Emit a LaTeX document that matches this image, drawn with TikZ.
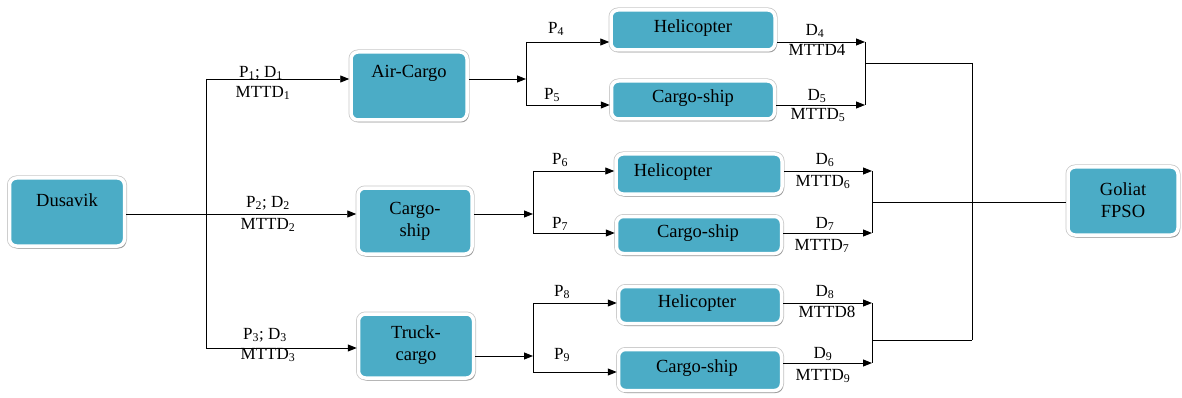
\documentclass[tikz,border=0pt]{standalone}
\usepackage{fontspec}
\setmainfont{Liberation Serif}
\newfontfamily\tnr{Liberation Serif}
\usetikzlibrary{arrows.meta,shadows}
\definecolor{boxblue}{RGB}{75,172,198}
\tikzset{
  box/.style={draw=white, line width=3.5pt, fill=boxblue, rounded corners=7pt, inner sep=0pt,
    preaction={draw=black!22, line width=5pt},
    drop shadow={shadow xshift=1.5pt, shadow yshift=-2.5pt, fill=black, opacity=0.25}},
  btxt/.style={font=\tnr\fontsize{18.5}{22}\selectfont, inner sep=0pt, align=center, text=black},
  lbl/.style={font=\tnr\fontsize{17}{19}\selectfont, inner sep=0pt, text=black},
  ln/.style={line width=0.9pt, draw=black},
  arr/.style={ln, -{Triangle[length=9pt,width=7pt]}},
}
\begin{document}
\begin{tikzpicture}[x=1pt,y=-1pt]
\useasboundingbox (0,0) rectangle (1182,398);
% boxes
\node[box, minimum width=115, minimum height=68] (dus) at (67,212) {};
\node[box, minimum width=116, minimum height=68] (air) at (409,86) {};
\node[box, minimum width=164, minimum height=40] (heli1) at (693,30) {};
\node[box, minimum width=163, minimum height=38] (ship1) at (693,100) {};
\node[box, minimum width=114, minimum height=66] (ship2) at (415,221) {};
\node[box, minimum width=166, minimum height=40] (heli2) at (699,174) {};
\node[box, minimum width=165, minimum height=37] (ship3) at (699,235) {};
\node[box, minimum width=115, minimum height=64] (truck) at (416,346) {};
\node[box, minimum width=163, minimum height=37] (heli3) at (700,305) {};
\node[box, minimum width=163, minimum height=41] (ship4) at (700,370) {};
\node[box, minimum width=110, minimum height=68] (goliat) at (1123,201) {};
% box texts
\node[btxt] (dusT) at (67,200) {Dusavik};
\node[btxt] (airT) at (409,73) {Air-Cargo};
\node[btxt] (heli1T) at (693,28) {Helicopter};
\node[btxt] (ship1T) at (693,98) {Cargo-ship};
\node[btxt] (ship2T) at (415,221.5) {Cargo-\\ship};
\node[btxt] (heli2T) at (673,172) {Helicopter};
\node[btxt] (ship3T) at (698,233) {Cargo-ship};
\node[btxt] (truckT) at (416,345.5) {Truck-\\cargo};
\node[btxt] (heli3T) at (697,303) {Helicopter};
\node[btxt] (ship4T) at (697,368) {Cargo-ship};
\node[btxt] (goliatT) at (1123,200) {Goliat\\FPSO};
% junction coordinates
\coordinate (ja) at (206,79);
\coordinate (jb) at (206,214);
\coordinate (jc) at (206,348);
\coordinate (ka) at (526,79);
\coordinate (ka1) at (526,42);
\coordinate (ka2) at (526,105);
\coordinate (kb) at (533,214);
\coordinate (kb1) at (533,171);
\coordinate (kb2) at (533,233);
\coordinate (kc) at (533,356);
\coordinate (kc1) at (533,303);
\coordinate (kc2) at (533,372);
\coordinate (ma1) at (865,42);
\coordinate (ma2) at (865,105);
\coordinate (ma) at (865,63);
\coordinate (mb1) at (872,171);
\coordinate (mb2) at (872,233);
\coordinate (mb) at (872,202);
\coordinate (mc1) at (872,303);
\coordinate (mc2) at (872,363);
\coordinate (mc) at (872,340);
\coordinate (na) at (972,63);
\coordinate (nc) at (972,340);
% first stage
\draw[ln] (dus.east |- jb) -- (jb);
\draw[ln] (ja) -- (jc);
\draw[arr] (ja) -- (ja -| air.west);
\draw[arr] (jb) -- (jb -| ship2.west);
\draw[arr] (jc) -- (jc -| truck.west);
% top branch
\draw[arr] (air.east |- ka) -- (ka);
\draw[ln] (ka1) -- (ka2);
\draw[arr] (ka1) -- (ka1 -| heli1.west);
\draw[arr] (ka2) -- (ka2 -| ship1.west);
\draw[arr] (heli1.east |- ma1) -- (ma1);
\draw[arr] (ship1.east |- ma2) -- (ma2);
\draw[ln] (ma1) -- (ma2);
\draw[ln] (ma) -- (na);
% middle branch
\draw[arr] (ship2.east |- kb) -- (kb);
\draw[ln] (kb1) -- (kb2);
\draw[arr] (kb1) -- (kb1 -| heli2.west);
\draw[arr] (kb2) -- (kb2 -| ship3.west);
\draw[arr] (heli2.east |- mb1) -- (mb1);
\draw[arr] (ship3.east |- mb2) -- (mb2);
\draw[ln] (mb1) -- (mb2);
\draw[ln] (mb) -- (mb -| goliat.west);
% bottom branch
\draw[arr] (truck.east |- kc) -- (kc);
\draw[ln] (kc1) -- (kc2);
\draw[arr] (kc1) -- (kc1 -| heli3.west);
\draw[arr] (kc2) -- (kc2 -| ship4.west);
\draw[arr] (heli3.east |- mc1) -- (mc1);
\draw[arr] (ship4.east |- mc2) -- (mc2);
\draw[ln] (mc1) -- (mc2);
\draw[ln] (mc) -- (nc);
\draw[ln] (na) -- (nc);
% labels
\node[lbl] (l1a) at (261,73) {P\textsubscript{1}; D\textsubscript{1}};
\node[lbl] (l1b) at (263,93) {MTTD\textsubscript{1}};
\node[lbl] (l2a) at (268,203) {P\textsubscript{2}; D\textsubscript{2}};
\node[lbl] (l2b) at (268,225) {MTTD\textsubscript{2}};
\node[lbl] (l3a) at (265,335) {P\textsubscript{3}; D\textsubscript{3}};
\node[lbl] (l3b) at (268,355) {MTTD\textsubscript{3}};
\node[lbl] (p4) at (556,29) {P\textsubscript{4}};
\node[lbl] (p5) at (552,95) {P\textsubscript{5}};
\node[lbl] (p6) at (560,160) {P\textsubscript{6}};
\node[lbl] (p7) at (560,224) {P\textsubscript{7}};
\node[lbl] (p8) at (562,292) {P\textsubscript{8}};
\node[lbl] (p9) at (562,355) {P\textsubscript{9}};
\node[lbl] (d4) at (815,31) {D\textsubscript{4}};
\node[lbl] (m4) at (817,50) {MTTD4};
\node[lbl] (d5) at (817,96) {D\textsubscript{5}};
\node[lbl] (m5) at (818,115) {MTTD\textsubscript{5}};
\node[lbl] (d6) at (825,160) {D\textsubscript{6}};
\node[lbl] (m6) at (823,182) {MTTD\textsubscript{6}};
\node[lbl] (d7) at (825,224) {D\textsubscript{7}};
\node[lbl] (m7) at (822,246) {MTTD\textsubscript{7}};
\node[lbl] (d8) at (825,292) {D\textsubscript{8}};
\node[lbl] (m8) at (827,312) {MTTD8};
\node[lbl] (d9) at (823,354) {D\textsubscript{9}};
\node[lbl] (m9) at (823,376) {MTTD\textsubscript{9}};
\end{tikzpicture}
\end{document}
